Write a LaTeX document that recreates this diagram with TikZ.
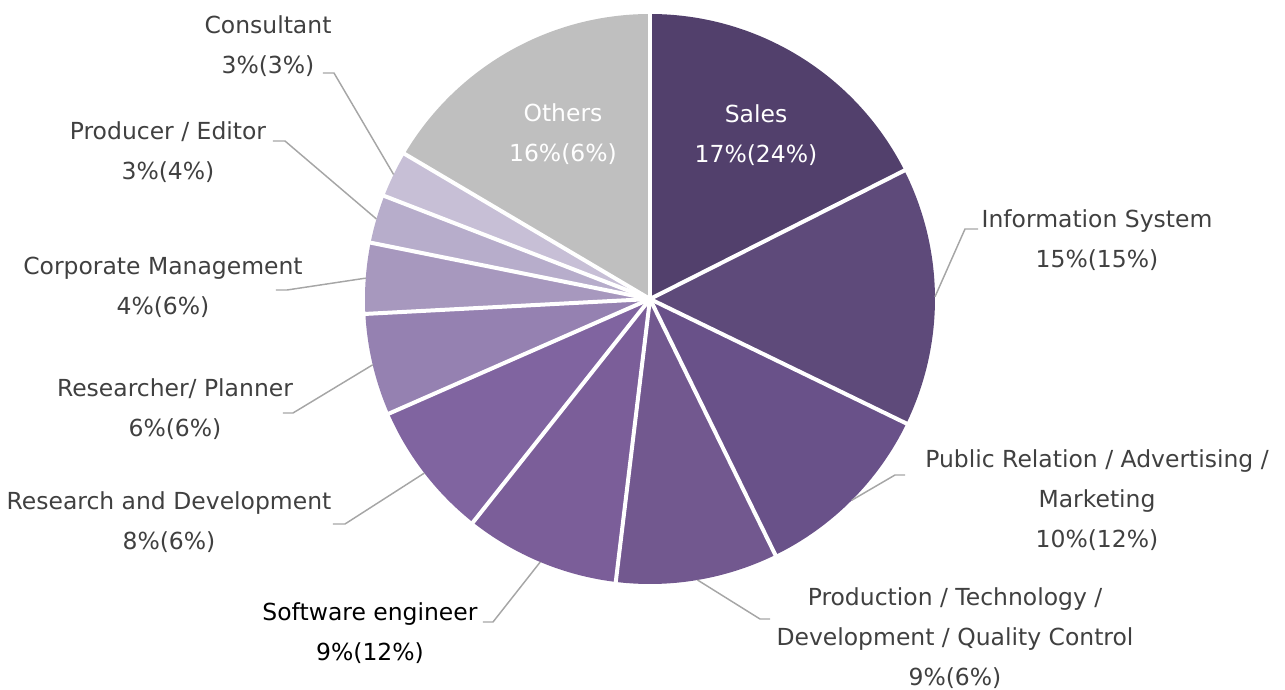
\documentclass[tikz,border=0pt]{standalone}
\usepackage{fontspec}
\setmainfont{DejaVu Sans}
\usetikzlibrary{positioning}
\definecolor{salespurple}{RGB}{82,64,108}
\definecolor{infopurple}{RGB}{94,74,122}
\definecolor{prpurple}{RGB}{105,81,137}
\definecolor{prodpurple}{RGB}{114,88,143}
\definecolor{softpurple}{RGB}{123,94,153}
\definecolor{rdpurple}{RGB}{128,100,160}
\definecolor{respurple}{RGB}{149,129,177}
\definecolor{corppurple}{RGB}{167,152,190}
\definecolor{editpurple}{RGB}{183,173,203}
\definecolor{conspurple}{RGB}{199,191,214}
\definecolor{othersgray}{RGB}{191,191,191}
\definecolor{leadergray}{RGB}{166,166,166}
\definecolor{labelgray}{RGB}{64,64,64}
\tikzset{
    % pie pieces and labels
    piece/.style={fill=#1},
    divider/.style={draw=white, line width=3pt},
    leader/.style={draw=leadergray, line width=1.1pt},
    outlabel/.style={
        text=labelgray, align=center,
        font=\fontsize{17.6}{30}\selectfont
    },
    inlabel/.style={outlabel, text=white}
}
\begin{document}
\begin{tikzpicture}[x=0.75pt, y=0.75pt]
\useasboundingbox (-650,-390) rectangle (635,299);

% pieces, clockwise from the top
\fill[piece=salespurple] (0,0) -- (90:285) arc[start angle=90, end angle=26.8, radius=285] -- cycle;
\fill[piece=infopurple] (0,0) -- (26.8:285) arc[start angle=26.8, end angle=-25.9, radius=285] -- cycle;
\fill[piece=prpurple] (0,0) -- (-25.9:285) arc[start angle=-25.9, end angle=-63.9, radius=285] -- cycle;
\fill[piece=prodpurple] (0,0) -- (-63.9:285) arc[start angle=-63.9, end angle=-96.9, radius=285] -- cycle;
\fill[piece=softpurple] (0,0) -- (-96.9:285) arc[start angle=-96.9, end angle=-128.4, radius=285] -- cycle;
\fill[piece=rdpurple] (0,0) -- (-128.4:285) arc[start angle=-128.4, end angle=-156.3, radius=285] -- cycle;
\fill[piece=respurple] (0,0) -- (-156.3:285) arc[start angle=-156.3, end angle=-177, radius=285] -- cycle;
\fill[piece=corppurple] (0,0) -- (-177:285) arc[start angle=-177, end angle=-191.4, radius=285] -- cycle;
\fill[piece=editpurple] (0,0) -- (-191.4:285) arc[start angle=-191.4, end angle=-201.2, radius=285] -- cycle;
\fill[piece=conspurple] (0,0) -- (-201.2:285) arc[start angle=-201.2, end angle=-210.6, radius=285] -- cycle;
\fill[piece=othersgray] (0,0) -- (-210.6:285) arc[start angle=-210.6, end angle=-270, radius=285] -- cycle;

% white dividers
\coordinate (hub) at (0,0);
\foreach \a in {90,26.8,-25.9,-63.9,-96.9,-128.4,-156.3,-177,-191.4,-201.2,-210.6}
    \draw[divider] (hub) -- (\a:287);

% labels inside
\node[inlabel] (sales) at (106,164) {Sales\\17\%(24\%)};
\node[inlabel] (others) at (-87,165) {Others\\16\%(6\%)};

% labels outside
\node[outlabel] (info) at (447,59) {Information System\\15\%(15\%)};
\node[outlabel] (pr) at (447,-201) {Public Relation / Advertising /\\Marketing\\10\%(12\%)};
\node[outlabel] (prod) at (305,-339) {Production / Technology /\\Development / Quality Control\\9\%(6\%)};
\node[outlabel, text=black] (soft) at (-280,-334) {Software engineer\\9\%(12\%)};
\node[outlabel] (rd) at (-481,-223) {Research and Development\\8\%(6\%)};
\node[outlabel] (res) at (-475,-110) {Researcher/ Planner\\6\%(6\%)};
\node[outlabel] (corp) at (-487,12) {Corporate Management\\4\%(6\%)};
\node[outlabel] (edit) at (-482,147) {Producer / Editor\\3\%(4\%)};
\node[outlabel] (cons) at (-382,253) {Consultant\\3\%(3\%)};

% leader lines
\coordinate (info-rim) at (0.45:285);
\coordinate (info-elbow) at (315,70);
\coordinate (info-end) at (328,70);
\coordinate (pr-rim) at (-44.9:285);
\coordinate (pr-elbow) at (245,-176);
\coordinate (pr-end) at (255,-176);
\coordinate (prod-rim) at (-80.4:285);
\coordinate (prod-elbow) at (110,-320);
\coordinate (prod-end) at (120,-320);
\coordinate (soft-rim) at (-112.65:285);
\coordinate (soft-elbow) at (-157,-323);
\coordinate (soft-end) at (-167,-323);
\coordinate (rd-rim) at (-142.35:285);
\coordinate (rd-elbow) at (-305,-225);
\coordinate (rd-end) at (-317,-225);
\coordinate (res-rim) at (-166.65:285);
\coordinate (res-elbow) at (-357,-114);
\coordinate (res-end) at (-367,-114);
\coordinate (corp-rim) at (-184.2:285);
\coordinate (corp-elbow) at (-363,9);
\coordinate (corp-end) at (-374,9);
\coordinate (edit-rim) at (-196.3:285);
\coordinate (edit-elbow) at (-365,158);
\coordinate (edit-end) at (-377,158);
\coordinate (cons-rim) at (-205.9:285);
\coordinate (cons-elbow) at (-316,226);
\coordinate (cons-end) at (-327,226);

\draw[leader] (info-rim) -- (info-elbow) -- (info-end);
\draw[leader] (pr-rim) -- (pr-elbow) -- (pr-end);
\draw[leader] (prod-rim) -- (prod-elbow) -- (prod-end);
\draw[leader] (soft-rim) -- (soft-elbow) -- (soft-end);
\draw[leader] (rd-rim) -- (rd-elbow) -- (rd-end);
\draw[leader] (res-rim) -- (res-elbow) -- (res-end);
\draw[leader] (corp-rim) -- (corp-elbow) -- (corp-end);
\draw[leader] (edit-rim) -- (edit-elbow) -- (edit-end);
\draw[leader] (cons-rim) -- (cons-elbow) -- (cons-end);

\end{tikzpicture}
\end{document}
